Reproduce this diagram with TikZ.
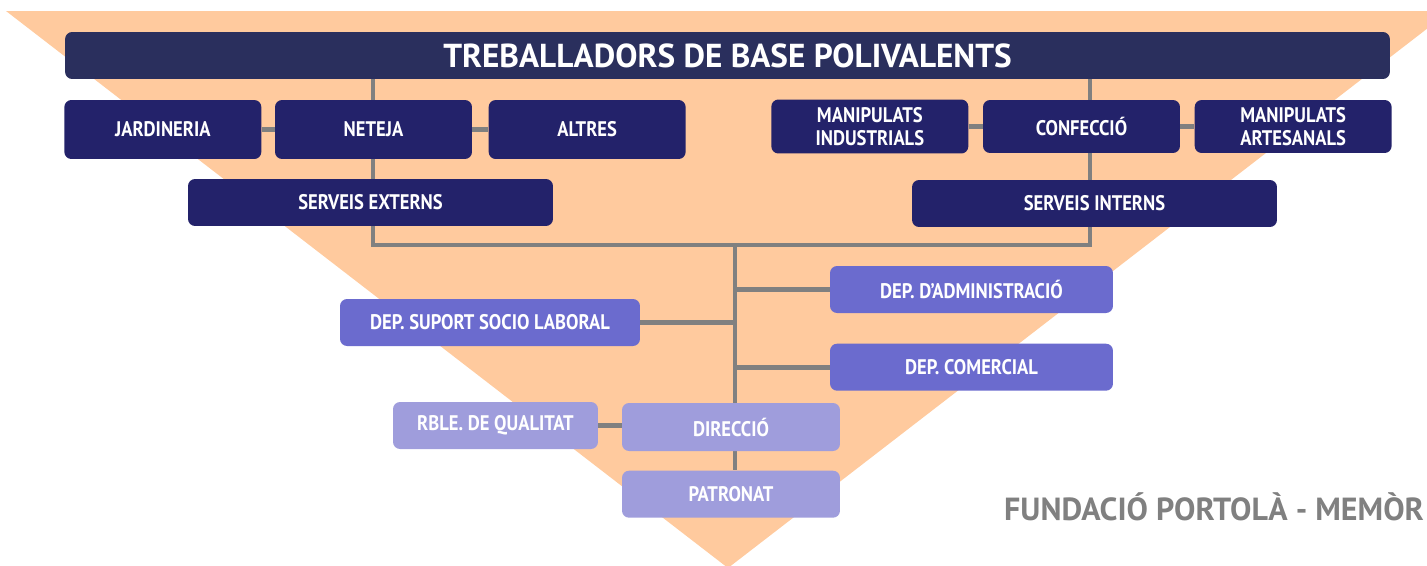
\documentclass[tikz,border=0pt]{standalone}
\usepackage{fontspec}
\setmainfont{PT Sans}[FakeStretch=0.88]
\newfontfamily\titlefont{PT Sans}
\usetikzlibrary{positioning, backgrounds}
\definecolor{navy}{HTML}{2A2F5D}
\definecolor{indigo}{HTML}{23226A}
\definecolor{violet}{HTML}{6B6BCE}
\definecolor{lilac}{HTML}{9F9DDC}
\definecolor{peach}{HTML}{FFCA9E}
\definecolor{linegray}{HTML}{808080}
\tikzset{
x=0.02cm, y=-0.02cm, % one unit is one pixel of the layout
box/.style={rounded corners=4pt, text=white, align=center, inner sep=0pt,
  font=\bfseries\fontsize{12}{13}\selectfont}, % every box of the chart
top box/.style={box, fill=navy, minimum width=26.5cm, minimum height=0.94cm,
  font=\titlefont\bfseries\fontsize{18.9}{20}\selectfont}, % the wide box on top
service/.style={box, fill=indigo, minimum width=3.94cm, minimum height=1.18cm}, % the six trades
group/.style={box, fill=indigo, minimum width=7.3cm, minimum height=0.94cm}, % externs and interns
dept/.style={box, fill=violet, minimum height=0.94cm}, % the departments
head/.style={box, fill=lilac, minimum height=0.94cm}, % direction and board
link/.style={draw=linegray, line width=2.7pt}, % the grey connectors
}

\begin{document}
\begin{tikzpicture}
    \useasboundingbox (0,0) rectangle (1427,565);
    \node[top box] (treb) at (727.5,55.5) {TREBALLADORS DE BASE POLIVALENTS};
    \node[service] (neteja) at (373.5,129.5) {NETEJA};
    \node[service, left=0.26cm of neteja] (jardineria) {JARDINERIA};
    \node[service, right=0.32cm of neteja] (altres) {ALTRES};
    \node[service, minimum height=1.06cm] (confeccio) at (1081.5,126.5) {CONFECCIÓ};
    \node[service, minimum height=1.08cm, left=0.28cm of confeccio] (manind) {MANIPULATS\\INDUSTRIALS};
    \node[service, minimum height=1.06cm, right=0.28cm of confeccio] (manart) {MANIPULATS\\ARTESANALS};
    \node[group] (externs) at (370.5,202.5) {SERVEIS EXTERNS};
    \node[group] (interns) at (1094.5,203.5) {SERVEIS INTERNS};
    \node[dept, minimum width=5.66cm] (admin) at (971.5,289.5) {DEP. D'ADMINISTRACIÓ};
    \node[dept, minimum width=5.66cm, below=0.6cm of admin] (comercial) {DEP. COMERCIAL};
    \node[dept, minimum width=6cm] (suport) at (490,322.5) {DEP. SUPORT SOCIO LABORAL};
    \node[head, minimum width=4.36cm, minimum height=0.96cm] (direccio) at (731,427) {DIRECCIÓ};
    \node[head, minimum width=4.36cm, below=0.38cm of direccio] (patronat) {PATRONAT};
    \node[head, minimum width=4.1cm] (qualitat) at (495.5,425.5) {RBLE. DE QUALITAT};
    \node[anchor=west, text=linegray, font=\titlefont\bfseries\fontsize{18.2}{19}\selectfont] (footer) at (998,507) {FUNDACIÓ PORTOLÀ - MEMÒR};
    \coordinate (lcorner) at (373,245);
    \coordinate (rcorner) at (1090,245);
    \coordinate (hub) at (735,245);
    \begin{scope}[on background layer]
    \fill[peach] (6,11) -- (1450,11) -- (728,568) -- cycle;
    \draw[link] (treb.south -| lcorner) -- (lcorner) -- (rcorner) -- (treb.south -| rcorner);
    \draw[link] (jardineria) -- (neteja) -- (altres);
    \draw[link] (manind) -- (confeccio) -- (manart);
    \draw[link] (hub) -- (patronat.north -| hub);
    \draw[link] (admin.west) -- (admin.west -| hub);
    \draw[link] (suport.east) -- (suport.east -| hub);
    \draw[link] (comercial.west) -- (comercial.west -| hub);
    \draw[link] (qualitat.east) -- (qualitat.east -| direccio.west);
    \end{scope}
\end{tikzpicture}
\end{document}
